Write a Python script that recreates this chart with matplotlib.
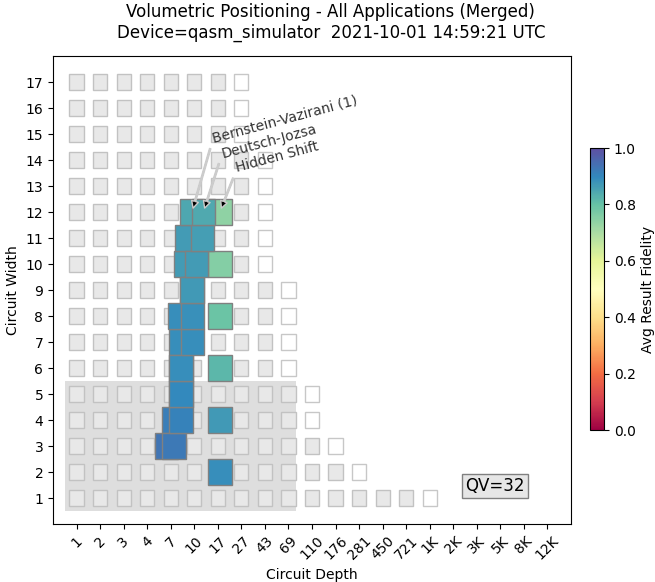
import numpy as np
import matplotlib
matplotlib.use("Agg")
import matplotlib.pyplot as plt
from matplotlib.patches import Rectangle
from matplotlib import cm, colors

# ---------------- data ----------------
suptitle = "Volumetric Positioning - All Applications (Merged)\nDevice=qasm_simulator  2021-10-01 14:59:21 UTC"
depth_tick_labels = ['1', '2', '3', '4', '7', '10', '17', '27', '43', '69', '110',
                     '176', '281', '450', '721', '1K', '2K', '3K', '5K', '8K', '12K']
width_ticks = list(range(1, 18))
# per circuit width (1..17): index of last grey (in-volume) depth cell; one white cell follows
bg_last_gray = [14, 11, 10, 9, 9, 8, 8, 8, 8, 7, 7, 7, 7, 7, 6, 6, 6]
qv_value = 32
qv_max_width = 5
qv_max_depth = 80

apps = ['Bernstein-Vazirani (1)', 'Deutsch-Jozsa', 'Hidden Shift']

bv_widths = [3, 4, 5, 6, 7, 8, 9, 10, 11, 12]
bv_depths = [6.05, 6.9, 8.06, 8.06, 8.06, 7.9, 10.0, 8.85, 8.94, 10.0]
bv_fidelity = [0.93, 0.915, 0.895, 0.89, 0.89, 0.89, 0.87, 0.865, 0.865, 0.845]

dj_widths = [3, 4, 5, 6, 7, 8, 9, 10, 11, 12]
dj_depths = [7.03, 8.06, 8.06, 8.06, 10.1, 10.1, 10.0, 11.0, 12.4, 12.6]
dj_fidelity = [0.925, 0.91, 0.895, 0.89, 0.89, 0.885, 0.87, 0.865, 0.86, 0.84]

hs_widths = [2, 4, 6, 8, 10, 12]
hs_depths = [17.6, 17.6, 17.6, 17.6, 17.6, 17.6]
hs_fidelity = [0.89, 0.87, 0.82, 0.79, 0.755, 0.74]

label_pos = [(0.305, 0.808), (0.322, 0.776), (0.350, 0.745)]

# ---------------- helpers ----------------
DEPTH_BASE = 1.6


def depth_pos(d):
    return np.log(np.asarray(d, dtype=float)) / np.log(DEPTH_BASE)


cmap = plt.get_cmap('Spectral')

fig = plt.figure(figsize=(6.55, 5.82), dpi=100)
W, H = 655, 582
ax = fig.add_axes([53 / W, (H - 524) / H, 518 / W, 468 / H])
ax.set_xlim(-1, 21)
ax.set_ylim(0, 18)

# QV box
qv_right = depth_pos(qv_max_depth)
ax.add_patch(Rectangle((-0.5, 0.5), qv_right + 0.5, qv_max_width, facecolor=(0.87, 0.87, 0.87),
                       edgecolor='none', zorder=0))

# background squares
sq = 0.6
for w, last in zip(width_ticks, bg_last_gray):
    for i in range(last + 2):
        if i <= last:
            fc, ec = (0.91, 0.91, 0.91), (0.76, 0.76, 0.76)
        else:
            fc, ec = 'white', (0.78, 0.78, 0.78)
        ax.add_patch(Rectangle((i - sq / 2, w - sq / 2), sq, sq, facecolor=fc, edgecolor=ec,
                               lw=1.0, zorder=1))

# data boxes
series = [(hs_widths, hs_depths, hs_fidelity),
          (bv_widths, bv_depths, bv_fidelity),
          (dj_widths, dj_depths, dj_fidelity)]
for k, (ws, ds, fs) in enumerate(series):
    xs = depth_pos(ds)
    for x, w, f in zip(xs, ws, fs):
        ax.add_patch(Rectangle((x - 0.5, w - 0.5), 1.0, 1.0, facecolor=cmap(f),
                               edgecolor=(0.5, 0.5, 0.5), lw=1.0, zorder=2 + k))

# annotations
anno_series = [(bv_widths, bv_depths), (dj_widths, dj_depths), (hs_widths, hs_depths)]
for name, (ws, ds), pos in zip(apps, anno_series, label_pos):
    x = depth_pos(ds[-1])
    ax.annotate(name, xy=(x + 0.05, ws[-1] + 0.15), xycoords='data', xytext=pos,
                textcoords='axes fraction', rotation=15, ha='left', va='bottom',
                fontsize=10, color=(0.2, 0.2, 0.2), zorder=8,
                arrowprops=dict(width=1.0, headwidth=5, headlength=5, facecolor='black',
                                edgecolor=(0.8, 0.8, 0.8)))

# QV label
ax.text(0.853, 0.081, f"QV={qv_value}", transform=ax.transAxes, ha='center', va='center',
        fontsize=12, bbox=dict(boxstyle='square,pad=0.2', facecolor=(0.9, 0.9, 0.9),
                               edgecolor=(0.5, 0.5, 0.5)), zorder=9)

ax.set_xticks(range(len(depth_tick_labels)))
ax.set_xticklabels(depth_tick_labels, rotation=45, ha='center', fontsize=10)
ax.set_yticks(width_ticks)
ax.set_yticklabels([str(w) for w in width_ticks], fontsize=10)
ax.set_xlabel('Circuit Depth', fontsize=10)
ax.set_ylabel('Circuit Width', fontsize=10)

fig.suptitle(suptitle, fontsize=12, y=0.995, x=0.505)

# colorbar
cax = fig.add_axes([590 / W, (H - 430) / H, 14 / W, 282 / H])
sm = cm.ScalarMappable(cmap=cmap, norm=colors.Normalize(0, 1))
cb = fig.colorbar(sm, cax=cax)
cb.set_label('Avg Result Fidelity', fontsize=10)
cb.ax.tick_params(labelsize=10)

fig.savefig('out.png', dpi=100)
